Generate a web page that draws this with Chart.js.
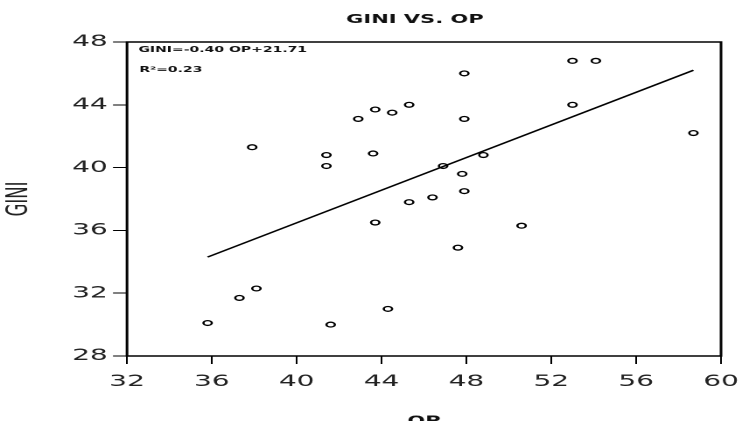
<!DOCTYPE html>
<html>
<head>
<meta charset="utf-8">
<script src="https://cdn.jsdelivr.net/npm/chart.js@4/dist/chart.umd.min.js"></script>
<style>
  html, body { margin: 0; padding: 0; background: #fff; overflow: hidden; width: 739px; height: 421px; }
  #wrap { position: absolute; left: 0; top: 0; width: 474.2px; height: 421px; transform: scaleX(1.75); transform-origin: 0 0; }
</style>
</head>
<body>
<div id="wrap"><canvas id="c"></canvas></div>
<script>
// ---- data ----
const chartTitle = 'GINI VS. OP';
const xTitle = 'OP';
const yTitle = 'GINI';
const equationText = 'GINI=-0.40 OP+21.71';
const r2Text = 'R\u00B2=0.23';

const opValues   = [53.0, 54.1, 47.9, 45.3, 43.7, 44.5, 42.9, 47.9, 53.0, 58.7, 37.9, 41.4, 43.6, 41.4, 46.9, 48.8, 47.8, 47.9, 46.4, 45.3, 43.7, 50.6, 47.6, 38.1, 37.3, 44.3, 35.8, 41.6];
const giniValues = [46.8, 46.8, 46.0, 44.0, 43.7, 43.5, 43.1, 43.1, 44.0, 42.2, 41.3, 40.8, 40.9, 40.1, 40.1, 40.8, 39.6, 38.5, 38.1, 37.8, 36.5, 36.3, 34.9, 32.3, 31.7, 31.0, 30.1, 30.0];

const fitLineOP   = [35.8, 58.7];
const fitLineGINI = [34.3, 46.2];

const xTicks = [32, 36, 40, 44, 48, 52, 56, 60];
const yTicks = [28, 32, 36, 40, 44, 48];

// ---- build datasets ----
const scatterPoints = opValues.map((x, i) => ({ x: x, y: giniValues[i] }));
const linePoints = fitLineOP.map((x, i) => ({ x: x, y: fitLineGINI[i] }));

const framePlugin = {
  id: 'frame',
  afterDraw(chart) {
    const { ctx, chartArea: a } = chart;
    ctx.save();
    ctx.strokeStyle = '#000';
    ctx.lineWidth = 1.5;
    ctx.strokeRect(a.left, a.top, a.right - a.left, a.bottom - a.top);
    ctx.font = 'bold 8px "DejaVu Sans"';
    ctx.fillStyle = '#111';
    ctx.textBaseline = 'middle';
    ctx.textAlign = 'left';
    ctx.fillText(equationText, a.left + 6.5, a.top + 8);
    ctx.fillText(r2Text, a.left + 7, a.top + 28);
    ctx.restore();
  }
};

new Chart(document.getElementById('c'), {
  type: 'scatter',
  data: {
    datasets: [
      {
        data: scatterPoints,
        pointStyle: 'circle',
        pointRadius: 2.4,
        pointBorderWidth: 1.3,
        pointBorderColor: '#000',
        pointBackgroundColor: 'rgba(255,255,255,0)',
        showLine: false
      },
      {
        data: linePoints,
        showLine: true,
        borderColor: '#000',
        borderWidth: 1.4,
        pointRadius: 0,
        fill: false
      }
    ]
  },
  options: {
    responsive: true,
    maintainAspectRatio: false,
    animation: false,
    devicePixelRatio: 2,
    layout: { padding: 0 },
    plugins: {
      legend: { display: false },
      tooltip: { enabled: false },
      title: {
        display: true,
        text: chartTitle,
        color: '#111',
        font: { family: 'DejaVu Sans', weight: 'bold', size: 12, lineHeight: 1.2 },
        padding: { top: 12.8, bottom: 14.8 }
      }
    },
    scales: {
      x: {
        type: 'linear',
        position: 'bottom',
        min: 32, max: 60,
        afterBuildTicks: s => { s.ticks = xTicks.map(v => ({ value: v })); },
        afterFit: s => { s.height = 65; },
        grid: { display: true, drawOnChartArea: false, drawTicks: true, tickLength: 8, color: '#000', lineWidth: 1 },
        border: { display: false },
        ticks: { color: '#222', font: { family: 'DejaVu Sans', size: 16 }, padding: 8, maxRotation: 0, autoSkip: false },
        title: { display: true, text: xTitle, color: '#111', font: { family: 'DejaVu Sans', weight: 'bold', size: 12, lineHeight: 1 }, padding: { top: 0, bottom: -6.5 } }
      },
      y: {
        type: 'linear',
        position: 'left',
        min: 28, max: 48,
        afterBuildTicks: s => { s.ticks = yTicks.map(v => ({ value: v })); },
        afterFit: s => { s.width = 72.57; },
        grid: { display: true, drawOnChartArea: false, drawTicks: true, tickLength: 8, color: '#000', lineWidth: 1 },
        border: { display: false },
        ticks: { color: '#222', font: { family: 'DejaVu Sans', size: 16 }, padding: 3, autoSkip: false },
        title: { display: true, text: yTitle, color: '#222', font: { family: 'DejaVu Sans', size: 16.5, lineHeight: 1 }, padding: { top: 3.15, bottom: 0 } }
      },
      y2: {
        type: 'linear',
        position: 'right',
        display: true,
        afterFit: s => { s.width = 62.2; },
        grid: { display: false },
        border: { display: false },
        ticks: { display: false },
        title: { display: false }
      }
    }
  },
  plugins: [framePlugin]
});
</script>
</body>
</html>
